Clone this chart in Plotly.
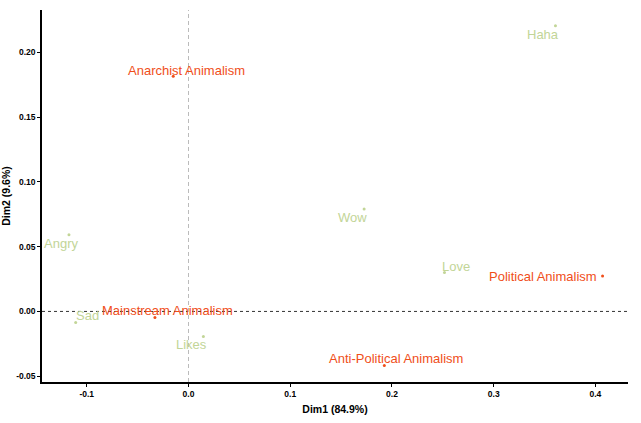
import plotly.graph_objects as go

# Row points (orange)
row_names = ["Anarchist Animalism", "Political Animalism", "Anti-Political Animalism", "Mainstream Animalism"]
row_dim1 = [-0.015, 0.407, 0.1925, -0.033]
row_dim2 = [0.1816, 0.0273, -0.0417, -0.0046]

# Column points (green)
col_names = ["Haha", "Wow", "Love", "Angry", "Sad", "Likes"]
col_dim1 = [0.3607, 0.1726, 0.2516, -0.1175, -0.1109, 0.0146]
col_dim2 = [0.2207, 0.0792, 0.0301, 0.0592, -0.0085, -0.0193]

x_ticks = [-0.1, 0.0, 0.1, 0.2, 0.3, 0.4]
x_labels = ["-0.1", "0.0", "0.1", "0.2", "0.3", "0.4"]
y_ticks = [-0.05, 0.0, 0.05, 0.10, 0.15, 0.20]
y_labels = ["-0.05", "0.00", "0.05", "0.10", "0.15", "0.20"]

# label offsets (pixels, repel-like placement)
row_off = {"Anarchist Animalism": (13, -6), "Political Animalism": (-60, 0),
           "Anti-Political Animalism": (12, -7), "Mainstream Animalism": (13, -7)}
col_off = {"Haha": (-12, 9), "Wow": (-12, 9), "Love": (12, -6), "Angry": (-8, 9),
           "Sad": (12, -7), "Likes": (-12, 8)}

ORANGE = "#F04E1A"
GREEN = "#C2D597"
FONT = "Liberation Sans, Arial, sans-serif"

fig = go.Figure()
fig.add_trace(go.Scatter(x=row_dim1, y=row_dim2, mode="markers",
                         marker=dict(color=ORANGE, size=3), hoverinfo="text", text=row_names))
fig.add_trace(go.Scatter(x=col_dim1, y=col_dim2, mode="markers",
                         marker=dict(color=GREEN, size=3), hoverinfo="text", text=col_names))

annotations = []
for n, x, y in zip(row_names, row_dim1, row_dim2):
    dx, dy = row_off[n]
    annotations.append(dict(x=x, y=y, text=n, showarrow=True, arrowcolor="rgba(0,0,0,0)",
                            ax=dx, ay=dy, font=dict(color=ORANGE, size=13, family=FONT)))
for n, x, y in zip(col_names, col_dim1, col_dim2):
    dx, dy = col_off[n]
    annotations.append(dict(x=x, y=y, text=n, showarrow=True, arrowcolor="rgba(0,0,0,0)",
                            ax=dx, ay=dy, font=dict(color=GREEN, size=13, family=FONT)))

fig.add_shape(type="line", xref="paper", yref="y", x0=0, x1=1, y0=0, y1=0,
              line=dict(color="#333333", width=1, dash="3px,3px"), layer="below")
fig.add_shape(type="line", xref="x", yref="paper", x0=0, x1=0, y0=0, y1=1,
              line=dict(color="#BBBBBB", width=1, dash="4px,3px"), layer="below")

fig.update_layout(
    width=641, height=423,
    margin=dict(l=42, r=13, t=10, b=41),
    plot_bgcolor="white", paper_bgcolor="white",
    showlegend=False,
    annotations=annotations,
    font=dict(family=FONT, color="black"),
    xaxis=dict(range=[-0.144, 0.432], tickvals=x_ticks,
               ticktext=["<b>%s</b>" % t for t in x_labels], automargin=False,
               showgrid=False, zeroline=False, showline=True, linecolor="black", linewidth=1.5,
               ticks="outside", ticklen=3, tickcolor="black",
               tickfont=dict(size=8.5, family=FONT, color="black"),
               title=dict(text="<b>Dim1 (84.9%)</b>", font=dict(size=10.5), standoff=8)),
    yaxis=dict(range=[-0.0545, 0.2328], tickvals=y_ticks,
               ticktext=["<b>%s</b>" % t for t in y_labels], automargin=False,
               showgrid=False, zeroline=False, showline=True, linecolor="black", linewidth=1.5,
               ticks="outside", ticklen=3, tickcolor="black",
               tickfont=dict(size=8.5, family=FONT, color="black"),
               title=dict(text="<b>Dim2 (9.6%)</b>", font=dict(size=10.5), standoff=6)),
)

fig.write_html("out.html", config={"displayModeBar": False},
               post_script="document.body.style.margin='0';document.body.style.overflow='hidden';")
